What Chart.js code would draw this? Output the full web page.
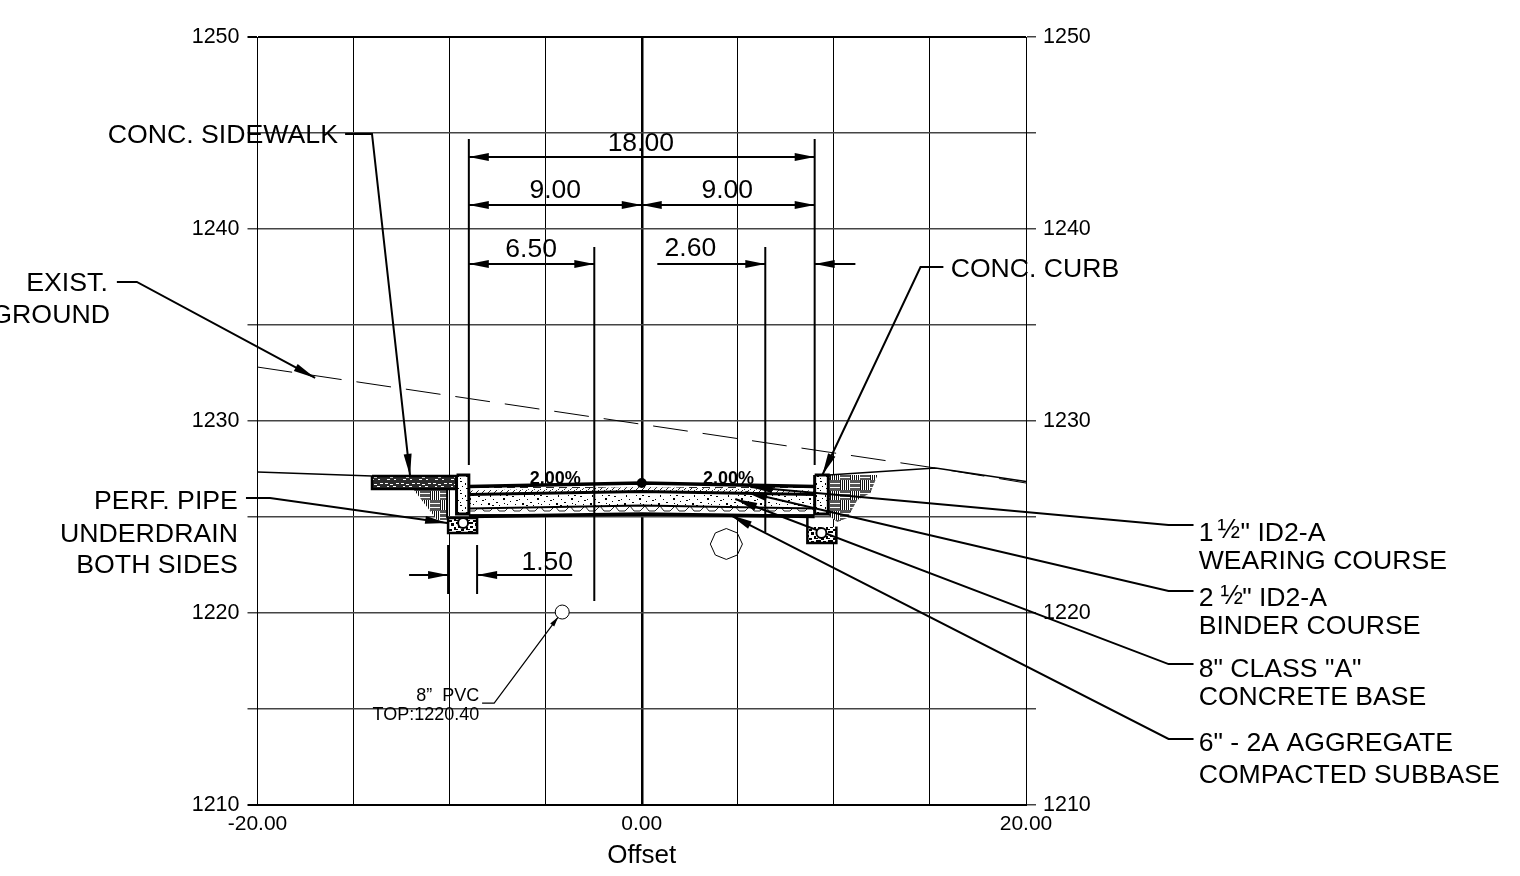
<!DOCTYPE html>
<html lang="en">
<head>
  <meta charset="UTF-8">
  <title>Roadway Cross Section</title>
  <script src="https://cdn.jsdelivr.net/npm/chart.js"></script>
  <style>
    html, body { margin: 0; padding: 0; background: #fff; overflow: hidden; }
    canvas { display: block; }
  </style>
</head>
<body>
  <canvas id="sectionChart" width="1520" height="876"></canvas>

  <script>
    // axis labels
    const xTickLabels = [-20, 0, 20];
    const yTickLabels = [1210, 1220, 1230, 1240, 1250];

    // ground lines
    const existingGround = [[-20, 1232.81], [15.29, 1227.55], [20, 1226.77]];
    const gradeLeft = [[-20, 1227.34], [-14.04, 1227.14]];
    const gradeRight = [[9.71, 1227.19], [15.29, 1227.55], [20, 1226.85]];

    // pavement layers, elevation at left edge / crown / right edge
    const layerX = [-9, 0, 9];
    const wearingTop = [1226.59, 1226.77, 1226.59];
    const wearingBottom = [1226.38, 1226.56, 1226.38];
    const binderBottom = [1226.17, 1226.33, 1226.17];
    const baseBottom = [1225.44, 1225.60, 1225.44];
    const subbaseBottom = [1225.03, 1225.16, 1225.03];

    // structures
    const sidewalk = [[-14.04, 1227.14], [-9.61, 1227.14], [-9.61, 1226.46], [-14.04, 1226.46], [-14.04, 1227.14]];
    const curbLeft = [[-9.64, 1227.19], [-9, 1227.19], [-9, 1225.16], [-9.64, 1225.16], [-9.64, 1227.19]];
    const curbRight = [[9, 1227.19], [9.71, 1227.19], [9.71, 1225.16], [9, 1225.16], [9, 1227.19]];
    const trenchLeft = [[-10.08, 1224.95], [-8.57, 1224.95], [-8.57, 1224.17], [-10.08, 1224.17], [-10.08, 1224.95]];
    const trenchRightFill = [[8.62, 1224.48], [10.13, 1224.48], [10.13, 1223.65], [8.62, 1223.65], [8.62, 1224.48]];
    const trenchRightEdge = [[8.62, 1225.05], [8.62, 1223.65], [10.13, 1223.65], [10.13, 1224.5]];
    const slopeLeft = [[-11.9, 1226.46], [-10.13, 1226.46], [-10.13, 1224.84], [-10.65, 1224.84], [-11.9, 1226.46]];
    const slopeLeftEdge = [[-10.13, 1226.46], [-10.13, 1224.95]];
    const slopeRight = [[9.71, 1227.19], [12.27, 1227.19], [11.9, 1226.25], [11.22, 1225.89], [10.7, 1224.95], [10.18, 1224.74], [9.71, 1225.1], [9.71, 1227.19]];
    const utilityOctagon = [[4.4, 1224.4], [4.97, 1224.17], [5.24, 1223.59], [4.97, 1223.02], [4.4, 1222.79], [3.83, 1223.02], [3.57, 1223.59], [3.83, 1224.17], [4.4, 1224.4]];
    const pipes = [[-9.3, 1224.69], [9.35, 1224.17]];
    const pvcPipe = [[-4.14, 1220.05]];
    const crownPoint = [[0, 1226.77]];

    // dimension extension lines
    const extensionLines = [
      [[-9, 1244.69], [-9, 1227.71]],
      [[9, 1244.69], [9, 1227.71]],
      [[-2.47, 1239.06], [-2.47, 1220.63]],
      [[6.43, 1239.06], [6.43, 1224.22]],
      [[-10.08, 1223.54], [-10.08, 1220.99]],
      [[-8.57, 1223.54], [-8.57, 1220.99]]
    ];
    // dimension lines with a head on both ends
    const dimBoth = [
      [[-9, 1243.75], [9, 1243.75]],
      [[-9, 1241.25], [0, 1241.25]],
      [[0, 1241.25], [9, 1241.25]],
      [[-9, 1238.18], [-2.47, 1238.18]]
    ];
    // leaders with a head on the last point
    const dimSingle = [
      [[0.81, 1238.18], [6.43, 1238.18]],
      [[11.12, 1238.18], [9, 1238.18]],
      [[-12.11, 1221.98], [-10.08, 1221.98]],
      [[-3.62, 1221.98], [-8.57, 1221.98]]
    ];
    const leaders = [
      [[-15.44, 1244.95], [-14.04, 1244.95], [-12.06, 1227.14]],
      [[15.7, 1238.02], [14.51, 1238.02], [9.4, 1227.19]],
      [[-20.6, 1225.99], [-19.35, 1225.99], [-10.13, 1224.69]],
      [[28.72, 1224.58], [27.42, 1224.58], [5.65, 1226.56]],
      [[28.72, 1221.15], [27.42, 1221.15], [5.39, 1226.3]],
      [[28.72, 1217.34], [27.42, 1217.34], [4.87, 1225.94]],
      [[28.72, 1213.44], [27.42, 1213.44], [4.61, 1225.1]]
    ];
    // listed tip first: chart.js drops points left of the axis when x is ascending
    const existLeader = [[-17, 1232.24], [-26.28, 1237.24], [-27.32, 1237.24]];
    const pvcLeader = [[-8.31, 1215.31], [-7.68, 1215.31], [-4.35, 1219.79]];

    // text
    const dimTexts = ['18.00', '9.00', '9.00', '6.50', '2.60', '1.50'];
    const dimX = [-0.05, -4.5, 4.45, -5.76, 2.53, -4.92];
    const dimY = [1244.53, 1242.08, 1242.08, 1239.01, 1239.06, 1222.71];
    const slopeTexts = ['2.00%', '2.00%'];
    const slopeX = [-4.5, 4.51];
    const slopeY = [1227.08, 1227.08];
    const leftTexts = ['CONC. SIDEWALK', 'EXIST.', 'GROUND', 'PERF. PIPE', 'UNDERDRAIN', 'BOTH SIDES'];
    const leftX = [-15.81, -27.79, -27.68, -21.02, -21.02, -21.02];
    const leftY = [1244.95, 1237.24, 1235.57, 1225.89, 1224.17, 1222.55];
    const rightTexts = ['CONC. CURB', '1', '" ID2-A', 'WEARING COURSE', '2', '" ID2-A', 'BINDER COURSE', '8" CLASS "A"', 'CONCRETE BASE', '6" - 2A AGGREGATE', 'COMPACTED SUBBASE'];
    const rightX = [16.08, 28.99, 31.17, 28.99, 28.99, 31.25, 28.99, 28.99, 28.99, 28.99, 28.99];
    const rightY = [1237.97, 1224.22, 1224.22, 1222.76, 1220.83, 1220.83, 1219.38, 1217.14, 1215.68, 1213.28, 1211.61];
    const fractionTexts = ['½', '½'];
    const fractionX = [29.97, 30.12];
    const fractionY = [1224.38, 1220.94];
    const pvcTexts = ['8”  PVC', 'TOP:1220.40'];
    const pvcX = [-8.46, -8.46];
    const pvcY = [1215.73, 1214.74];

    const FONT = '"Liberation Sans", Arial, sans-serif';

    function tile(w, h, draw) {
      const c = document.createElement('canvas');
      c.width = w;
      c.height = h;
      const g = c.getContext('2d');
      draw(g);
      return g.createPattern(c, 'repeat');
    }

    function specks(color, dots) {
      return g => {
        g.fillStyle = color;
        dots.forEach(d => g.fillRect(d[0], d[1], d[2], d[3]));
      };
    }

    const concretePattern = tile(34, 13, g => {
      g.fillStyle = '#fff';
      g.fillRect(0, 0, 34, 13);
      specks('#000', [[2, 2, 2, 1], [9, 5, 1, 1], [14, 1, 1, 2], [20, 8, 2, 1], [27, 4, 2, 2], [5, 10, 1, 1], [12, 9, 2, 2], [31, 10, 1, 1], [24, 1, 1, 1], [17, 5, 1, 1], [6, 6, 2, 1], [23, 11, 1, 1], [30, 1, 2, 1], [28, 9, 1, 1], [0, 7, 1, 1], [16, 11, 2, 1]])(g);
    });
    const curbPattern = tile(9, 12, g => {
      g.fillStyle = '#fff';
      g.fillRect(0, 0, 9, 12);
      specks('#000', [[1, 1, 2, 1], [6, 3, 1, 2], [3, 6, 1, 1], [7, 8, 2, 1], [1, 10, 1, 1]])(g);
    });
    const sidewalkPattern = tile(16, 13, g => {
      g.fillStyle = '#2a2a2a';
      g.fillRect(0, 0, 16, 13);
      specks('#fff', [[1, 2, 3, 1], [6, 3, 3, 1], [12, 2, 3, 1], [3, 5, 2, 1], [9, 5, 3, 1], [0, 8, 3, 1], [6, 9, 3, 1], [12, 8, 3, 1], [3, 11, 3, 1], [10, 11, 2, 1]])(g);
    });
    const trenchPattern = tile(12, 9, g => {
      g.fillStyle = '#fff';
      g.fillRect(0, 0, 12, 9);
      specks('#000', [[0, 0, 5, 2], [7, 1, 3, 3], [2, 4, 3, 2], [10, 5, 2, 3], [5, 7, 3, 2], [0, 7, 2, 1]])(g);
    });
    const basketPattern = tile(20, 20, g => {
      g.fillStyle = '#fff';
      g.fillRect(0, 0, 20, 20);
      // vertical blocks in two corners, grey bars in the other two
      [[0, 0], [10, 10]].forEach(o => {
        g.fillStyle = '#111';
        [0, 2, 4, 6, 8].forEach(p => g.fillRect(o[0] + p, o[1], 1, 10));
      });
      [[10, 0], [0, 10]].forEach(o => {
        g.fillStyle = '#555';
        [0, 4, 8].forEach(p => g.fillRect(o[0], o[1] + p, 10, 3));
      });
    });
    const wearingPattern = tile(13, 5, g => {
      g.fillStyle = '#fff';
      g.fillRect(0, 0, 13, 5);
      g.fillStyle = '#222';
      g.fillRect(0, 2, 8, 1);
    });
    const binderPattern = tile(6, 5, g => {
      g.fillStyle = '#fff';
      g.fillRect(0, 0, 6, 5);
      g.strokeStyle = '#222';
      g.beginPath();
      g.moveTo(0, 5);
      g.lineTo(5, 0);
      g.stroke();
    });
    const aggregatePattern = tile(15, 9, g => {
      g.fillStyle = '#fff';
      g.fillRect(0, 0, 15, 9);
      g.strokeStyle = '#222';
      g.beginPath();
      g.moveTo(0, 2);
      g.lineTo(4, 7);
      g.lineTo(10, 7);
      g.lineTo(15, 2);
      g.stroke();
      g.fillStyle = '#222';
      g.fillRect(0, 1, 15, 1);
    });

    function toPoints(pairs) {
      return pairs.map(p => ({ x: p[0], y: p[1] }));
    }

    function line(pairs, width, extra) {
      return Object.assign({
        data: toPoints(pairs),
        showLine: true,
        pointRadius: 0,
        borderColor: '#000',
        borderWidth: width,
        tension: 0,
        clip: false
      }, extra || {});
    }

    function area(pairs, pattern, width) {
      return line(pairs, width, { fill: 'shape', backgroundColor: pattern });
    }

    // closed polygon between two elevation lists
    function band(top, bottom) {
      const pairs = [];
      layerX.forEach((x, i) => pairs.push([x, top[i]]));
      for (let i = layerX.length - 1; i >= 0; i--) pairs.push([layerX[i], bottom[i]]);
      pairs.push([layerX[0], top[0]]);
      return pairs;
    }

    function profile(elev) {
      return layerX.map((x, i) => [x, elev[i]]);
    }

    function marks(pairs, radius, fillColor, width) {
      return {
        data: toPoints(pairs),
        showLine: false,
        pointRadius: radius,
        pointBackgroundColor: fillColor,
        pointBorderColor: '#000',
        pointBorderWidth: width,
        clip: false
      };
    }

    const datasets = [
      area(slopeLeft, basketPattern, 0),
      area(slopeRight, basketPattern, 0),
      line(existingGround, 1, { borderDash: [35, 15] }),
      line(gradeLeft, 1.5),
      line(gradeRight, 1.5),
      area(band(wearingTop, wearingBottom), wearingPattern, 0),
      area(band(wearingBottom, binderBottom), binderPattern, 0),
      area(band(binderBottom, baseBottom), concretePattern, 0),
      area(band(baseBottom, subbaseBottom), aggregatePattern, 0),
      line(profile(wearingTop), 3.5),
      line(profile(binderBottom), 3),
      line(profile(baseBottom), 2),
      line(profile(subbaseBottom), 3.5),
      area(sidewalk, sidewalkPattern, 2.5),
      area(curbLeft, curbPattern, 3),
      area(curbRight, curbPattern, 3),
      line(slopeLeftEdge, 2),
      area(trenchLeft, trenchPattern, 2.5),
      area(trenchRightFill, trenchPattern, 0),
      line(trenchRightEdge, 2.5),
      line(utilityOctagon, 1)
    ];
    extensionLines.forEach(l => datasets.push(line(l, 2)));
    dimBoth.forEach(l => datasets.push(line(l, 2, { headStart: 20, headEnd: 20 })));
    dimSingle.forEach(l => datasets.push(line(l, 2, { headEnd: 20 })));
    leaders.forEach(l => datasets.push(line(l, 2, { headEnd: 22 })));
    datasets.push(line(existLeader, 2, { headStart: 22 }));
    datasets.push(line(pvcLeader, 1.2, { headEnd: 10, headHalf: 2.5 }));
    datasets.push(marks(pipes, 5, '#fff', 2));
    datasets.push(marks(pvcPipe, 7, '#fff', 1));
    datasets.push(marks(crownPoint, 5, '#000', 0));
    // first dataset is drawn last by default, so flip the stacking
    datasets.forEach((d, i) => { d.order = datasets.length - i; });

    function drawHead(ctx, from, to, len, half) {
      const a = Math.atan2(to.y - from.y, to.x - from.x);
      ctx.save();
      ctx.translate(to.x, to.y);
      ctx.rotate(a);
      ctx.beginPath();
      ctx.moveTo(0, 0);
      ctx.lineTo(-len, -half);
      ctx.lineTo(-len, half);
      ctx.closePath();
      ctx.fillStyle = '#000';
      ctx.fill();
      ctx.restore();
    }

    const arrowHeads = {
      id: 'arrowHeads',
      afterDatasetsDraw(chart) {
        const { ctx, scales } = chart;
        chart.data.datasets.forEach(d => {
          if (!d.headEnd && !d.headStart) return;
          const pts = d.data.map(p => ({ x: scales.x.getPixelForValue(p.x), y: scales.y.getPixelForValue(p.y) }));
          const half = d.headHalf || 4;
          if (d.headEnd) drawHead(ctx, pts[pts.length - 2], pts[pts.length - 1], d.headEnd, half);
          if (d.headStart) drawHead(ctx, pts[1], pts[0], d.headStart, half);
        });
      }
    };

    const labelGroups = [
      { texts: dimTexts, xs: dimX, ys: dimY, align: 'center', font: '26.5px ' + FONT },
      { texts: slopeTexts, xs: slopeX, ys: slopeY, align: 'center', font: 'bold 18px ' + FONT },
      { texts: leftTexts, xs: leftX, ys: leftY, align: 'right', font: '26.7px ' + FONT },
      { texts: rightTexts, xs: rightX, ys: rightY, align: 'left', font: '26.6px ' + FONT },
      { texts: fractionTexts, xs: fractionX, ys: fractionY, align: 'left', font: '27px ' + FONT },
      { texts: pvcTexts, xs: pvcX, ys: pvcY, align: 'right', font: '18px ' + FONT }
    ];

    const drawingText = {
      id: 'drawingText',
      afterDraw(chart) {
        const { ctx, scales } = chart;
        ctx.save();
        ctx.fillStyle = '#000';
        ctx.textBaseline = 'middle';
        labelGroups.forEach(g => {
          ctx.font = g.font;
          ctx.textAlign = g.align;
          g.texts.forEach((t, i) => {
            // canvas "middle" sits a little above the middle of the capitals
            ctx.fillText(t, scales.x.getPixelForValue(g.xs[i]), scales.y.getPixelForValue(g.ys[i]) + 1.5);
          });
        });
        ctx.restore();
      }
    };

    function yTick(v) {
      return yTickLabels.includes(v) ? String(v) : '';
    }

    new Chart(document.getElementById('sectionChart'), {
      type: 'scatter',
      data: { datasets: datasets },
      plugins: [arrowHeads, drawingText],
      options: {
        responsive: false,
        animation: false,
        events: [],
        layout: { padding: { top: 37 } },
        plugins: { legend: { display: false }, tooltip: { enabled: false } },
        scales: {
          x: {
            type: 'linear',
            min: -20,
            max: 20,
            z: 1,
            afterFit: s => { s.height = 71; },
            grid: {
              color: '#000',
              drawTicks: false,
              lineWidth: c => (c.tick && c.tick.value === 0 ? 2.5 : 1)
            },
            border: { color: '#000' },
            ticks: {
              stepSize: 5,
              autoSkip: false,
              maxRotation: 0,
              padding: 7,
              color: '#000',
              font: { family: FONT, size: 21 },
              callback: v => (xTickLabels.includes(v) ? v.toFixed(2) : '')
            },
            title: {
              display: true,
              text: 'Offset',
              color: '#000',
              font: { family: FONT, size: 26 },
              padding: { top: 0, bottom: 5 }
            }
          },
          y: {
            type: 'linear',
            min: 1210,
            max: 1250,
            z: 1,
            afterFit: s => { s.width = 257.5; },
            grid: {
              color: c => (c.tick && (c.tick.value === 1210 || c.tick.value === 1250) ? '#000' : '#444'),
              lineWidth: c => (c.tick && (c.tick.value === 1210 || c.tick.value === 1250) ? 2 : 1.5),
              tickLength: 10
            },
            border: { color: '#000' },
            ticks: {
              stepSize: 5,
              autoSkip: false,
              padding: 8,
              color: '#000',
              font: { family: FONT, size: 21.5 },
              callback: yTick
            }
          },
          yRight: {
            type: 'linear',
            position: 'right',
            min: 1210,
            max: 1250,
            z: 1,
            afterFit: s => { s.width = 494; },
            grid: {
              drawOnChartArea: false,
              color: '#444',
              lineWidth: 1.5,
              tickLength: 10
            },
            border: { color: '#000' },
            ticks: {
              stepSize: 5,
              autoSkip: false,
              padding: 7,
              color: '#000',
              font: { family: FONT, size: 21.5 },
              callback: yTick
            }
          }
        }
      }
    });
  </script>
</body>
</html>
